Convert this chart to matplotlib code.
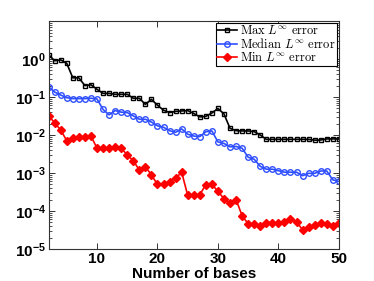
import numpy as np
import matplotlib
matplotlib.use('Agg')
import matplotlib.pyplot as plt
from matplotlib.ticker import FixedLocator, LogLocator, FuncFormatter, NullFormatter

plt.rcParams['font.family'] = ['Liberation Sans', 'DejaVu Sans']
plt.rcParams['mathtext.fontset'] = 'custom'
plt.rcParams['mathtext.rm'] = 'Liberation Sans:bold'
plt.rcParams['mathtext.bf'] = 'Liberation Sans:bold'
plt.rcParams['mathtext.it'] = 'Liberation Sans:bold:italic'

# number of bases
n_bases = list(range(2, 51))

max_err = [1.3, 0.9, 0.95, 0.77, 0.32, 0.32, 0.2, 0.21, 0.16, 0.125,
           0.125, 0.118, 0.118, 0.118, 0.093, 0.093, 0.064, 0.087, 0.061, 0.045,
           0.039, 0.042, 0.043, 0.044, 0.037, 0.030, 0.031, 0.038, 0.050, 0.036,
           0.015, 0.0130, 0.0128, 0.0128, 0.0123, 0.0100, 0.0077, 0.0077, 0.0077, 0.0077,
           0.0077, 0.0077, 0.0077, 0.0077, 0.0073, 0.0074, 0.0079, 0.0079, 0.0079]

median_err = [0.187, 0.135, 0.113, 0.096, 0.091, 0.091, 0.091, 0.093, 0.089, 0.047,
              0.034, 0.044, 0.040, 0.039, 0.032, 0.026, 0.026, 0.022, 0.0175, 0.016,
              0.013, 0.0118, 0.0145, 0.0105, 0.0094, 0.0091, 0.0122, 0.0128, 0.0066, 0.0060,
              0.0049, 0.0050, 0.0045, 0.0026, 0.0023, 0.0015, 0.00126, 0.00126, 0.00115, 0.00105,
              0.00105, 0.00105, 0.00085, 0.00098, 0.00098, 0.00113, 0.00113, 0.00066, 0.00060]

min_err = [0.032, 0.021, 0.0135, 0.0071, 0.0082, 0.0091, 0.0087, 0.0094, 0.0045, 0.0045,
           0.0045, 0.0048, 0.0045, 0.0030, 0.0021, 0.0012, 0.00147, 0.00089, 0.00050, 0.00050,
           0.00059, 0.00072, 0.00105, 0.00026, 0.00026, 0.00027, 0.00049, 0.00050, 0.00033, 0.00021,
           0.000165, 0.00020, 0.000075, 4.6e-5, 4.6e-5, 4.1e-5, 4.8e-5, 4.8e-5, 4.8e-5, 5.2e-5,
           6.0e-5, 5.2e-5, 3.2e-5, 3.7e-5, 4.3e-5, 4.8e-5, 4.6e-5, 4.0e-5, 4.8e-5]

labels = [r'$\mathrm{Max}\ L^{\infty}\ \mathrm{error}$',
          r'$\mathrm{Median}\ L^{\infty}\ \mathrm{error}$',
          r'$\mathrm{Min}\ L^{\infty}\ \mathrm{error}$']

fig = plt.figure(figsize=(3.74, 2.81), dpi=100)
ax = fig.add_axes([0.13, 0.114, 0.776, 0.811])

ax.semilogy(n_bases, max_err, '-s', color='k', lw=1.2, ms=3.5, mfc='none', mew=1.0, label=labels[0])
ax.semilogy(n_bases, median_err, '-o', color='#2f4fff', lw=1.2, ms=4, mfc='none', mew=1.0, label=labels[1])
ax.semilogy(n_bases, min_err, '-D', color='#ff0000', lw=1.2, ms=4, mfc='#ff0000', mew=1.0, label=labels[2])

ax.set_xlim(2, 50)
ax.set_ylim(1e-5, 1e1)
ax.set_xticks([10, 20, 30, 40, 50])
ax.yaxis.set_major_locator(FixedLocator([1e-5, 1e-4, 1e-3, 1e-2, 1e-1, 1e0]))
ax.yaxis.set_minor_locator(LogLocator(base=10, subs=np.arange(2, 10), numticks=20))
ax.yaxis.set_minor_formatter(NullFormatter())
ax.yaxis.set_major_formatter(FuncFormatter(lambda v, p: r'$\mathbf{10^{%d}}$' % round(np.log10(v))))

ax.tick_params(which='both', direction='in', top=True, right=True, colors='#333333', labelcolor='k')
ax.tick_params(which='major', length=4, width=0.7, labelsize=11, pad=2)
ax.tick_params(which='minor', length=2, width=0.6)
for lab in ax.get_xticklabels():
    lab.set_fontweight('bold')
for s in ax.spines.values():
    s.set_linewidth(0.8)
    s.set_color('#333333')

ax.set_xlabel('Number of bases', fontsize=11, fontweight='bold', labelpad=1)

leg = ax.legend(loc='upper right', bbox_to_anchor=(337 / 374, 1 - 23 / 281),
                bbox_transform=fig.transFigure, borderaxespad=0,
                prop=dict(size=9, math_fontfamily='cm'),
                labelspacing=0.0, handlelength=1.6, handletextpad=0.25,
                borderpad=0.1, fancybox=False, framealpha=1)
leg.get_frame().set_edgecolor('k')
leg.get_frame().set_linewidth(0.8)

fig.savefig('out.png', dpi=100)
